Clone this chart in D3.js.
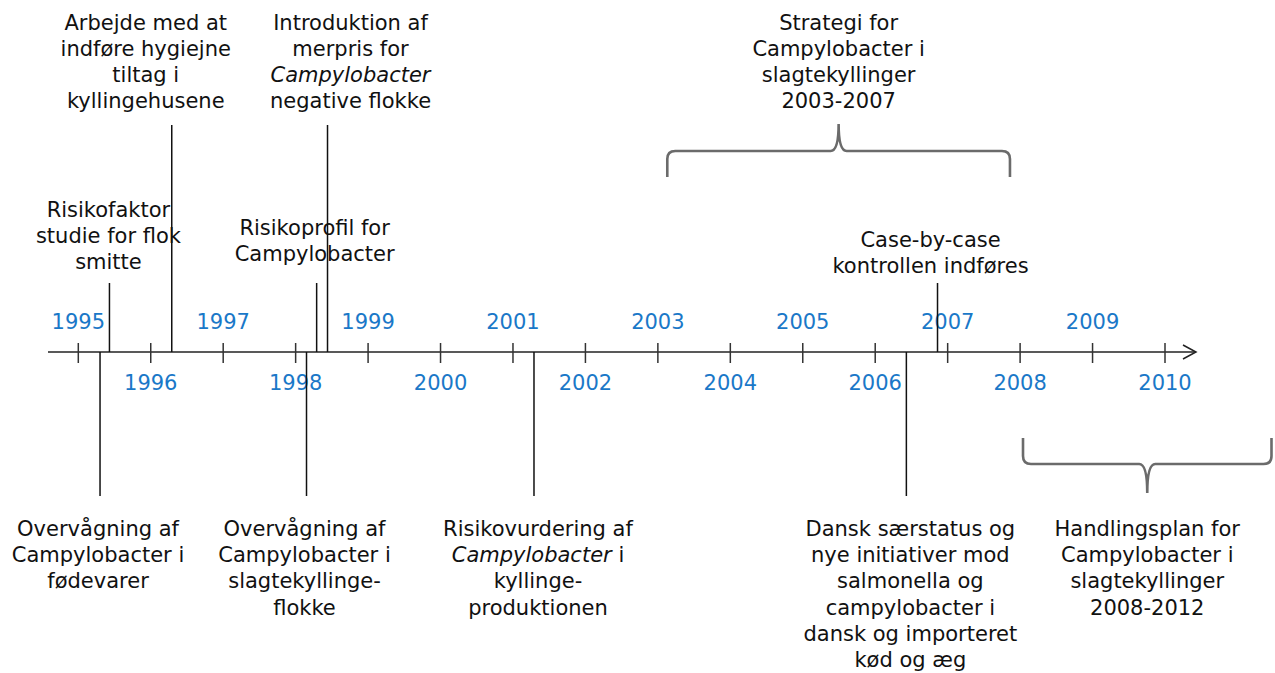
<!DOCTYPE html>
<html>
<head>
<meta charset="utf-8">
<script src="https://cdn.jsdelivr.net/npm/d3@7"></script>
<style>
  body { margin: 0; background: #fff; }
  svg text { font-family: "DejaVu Sans", Verdana, sans-serif; }
</style>
</head>
<body>
<svg id="chart"></svg>
<script>
// Tick years on the time line
var tickYears = [1995, 1996, 1997, 1998, 1999, 2000, 2001, 2002, 2003, 2004, 2005, 2006, 2007, 2008, 2009, 2010];

// Point events (date as fractional year), _text_ = italic
var eventLabels = [
    ["Risikofaktor", "studie for flok", "smitte"],
    ["Arbejde med at", "indføre hygiejne", "tiltag i", "kyllingehusene"],
    ["Risikoprofil for", "Campylobacter"],
    ["Introduktion af", "merpris for", "_Campylobacter_", "negative flokke"],
    ["Case-by-case", "kontrollen indføres"],
    ["Overvågning af", "Campylobacter i", "fødevarer"],
    ["Overvågning af", "Campylobacter i", "slagtekyllinge-", "flokke"],
    ["Risikovurdering af", "_Campylobacter_ i", "kyllinge-", "produktionen"],
    ["Dansk særstatus og", "nye initiativer mod", "salmonella og", "campylobacter i", "dansk og importeret", "kød og æg"]
];
var eventDates = [1995.43, 1996.29, 1998.29, 1998.44, 2006.86, 1995.30, 1998.15, 2001.29, 2006.43];

// Periods drawn with a brace
var periodLabels = [
    ["Strategi for", "Campylobacter i", "slagtekyllinger", "2003-2007"],
    ["Handlingsplan for", "Campylobacter i", "slagtekyllinger", "2008-2012"]
];
var periodStart = [2003.13, 2008.04];
var periodEnd = [2007.86, 2011.47];

// Layout: line top/bottom, first text baseline, text x offset
var eventLayout = [
    {y1: 283, textY: 217, dx: -1},
    {y1: 125, textY: 29.5, dx: -26},
    {y1: 283, textY: 235, dx: -2},
    {y1: 125, textY: 29.5, dx: 23},
    {y1: 283, textY: 246.5, dx: -7},
    {y1: 496, textY: 536, dx: -2},
    {y1: 496, textY: 536, dx: -2},
    {y1: 496, textY: 536, dx: 4},
    {y1: 496, textY: 536, dx: 4}
];
var periodLayout = [
    {legY: 177, barY: 151, tipY: 124, textY: 29.5},
    {legY: 438, barY: 464, tipY: 493, textY: 536}
];

var width = 1275, height = 673;
var axisY = 352;
var lineGap = 26.2;

var svg = d3.select("#chart")
    .attr("width", width)
    .attr("height", height);

var x = d3.scaleLinear()
    .domain([1995, 2010])
    .range([78.3, 1165]);

// Axis line with open arrow
svg.append("line")
    .attr("x1", 48).attr("x2", 1195)
    .attr("y1", axisY).attr("y2", axisY)
    .attr("stroke", "#222").attr("stroke-width", 1.5);
svg.append("path")
    .attr("d", "M1183," + (axisY - 7) + "L1196," + axisY + "L1183," + (axisY + 7))
    .attr("fill", "none").attr("stroke", "#222").attr("stroke-width", 1.5);

// Ticks
svg.selectAll(".tick").data(tickYears).enter()
    .append("line")
    .attr("class", "tick")
    .attr("x1", function (d) {return x(d);})
    .attr("x2", function (d) {return x(d);})
    .attr("y1", axisY - 9).attr("y2", axisY + 11)
    .attr("stroke", "#333").attr("stroke-width", 1.5);

// Year labels: odd years above, even years below
svg.selectAll(".year").data(tickYears).enter()
    .append("text")
    .attr("class", "year")
    .attr("x", function (d) {return x(d);})
    .attr("y", function (d) {return d % 2 === 1 ? 329 : 390;})
    .attr("text-anchor", "middle")
    .attr("font-size", 21)
    .attr("fill", "#1a78c8")
    .text(function (d) {return d;});

// multi-line centered text with _italic_ segments
function addLabel(lines, cx, y0) {
    var t = svg.append("text")
        .attr("text-anchor", "middle")
        .attr("font-size", 21)
        .attr("fill", "#111");
    lines.forEach(function (line, i) {
        var row = t.append("tspan").attr("x", cx).attr("y", y0 + i * lineGap);
        line.split(/(_[^_]+_)/).filter(function (s) {return s.length;}).forEach(function (seg) {
            var italic = seg.charAt(0) === "_";
            row.append("tspan")
                .attr("font-style", italic ? "italic" : null)
                .text(italic ? seg.slice(1, -1) : seg);
        });
    });
}

// Event connectors and labels
eventDates.forEach(function (d, i) {
    var lay = eventLayout[i];
    svg.append("line")
        .attr("x1", x(d)).attr("x2", x(d))
        .attr("y1", lay.y1).attr("y2", axisY)
        .attr("stroke", "#111").attr("stroke-width", 1.5);
    addLabel(eventLabels[i], x(d) + lay.dx, lay.textY);
});

// Braces for periods
function bracePath(x0, x1, legY, barY, tipY) {
    var s = barY < legY ? -1 : 1; // direction from legs to bar
    var r = 8;
    var xm = (x0 + x1) / 2;
    var p = d3.path();
    p.moveTo(x0, legY);
    p.lineTo(x0, barY - s * r);
    p.quadraticCurveTo(x0, barY, x0 + r, barY);
    p.lineTo(xm - r, barY);
    p.quadraticCurveTo(xm, barY, xm, tipY);
    p.quadraticCurveTo(xm, barY, xm + r, barY);
    p.lineTo(x1 - r, barY);
    p.quadraticCurveTo(x1, barY, x1, barY - s * r);
    p.lineTo(x1, legY);
    return p.toString();
}

periodStart.forEach(function (d, i) {
    var lay = periodLayout[i];
    var x0 = x(d), x1 = x(periodEnd[i]);
    svg.append("path")
        .attr("d", bracePath(x0, x1, lay.legY, lay.barY, lay.tipY))
        .attr("fill", "none")
        .attr("stroke", "#6b6b6b")
        .attr("stroke-width", 2.6);
    addLabel(periodLabels[i], (x0 + x1) / 2, lay.textY);
});
</script>
</body>
</html>
